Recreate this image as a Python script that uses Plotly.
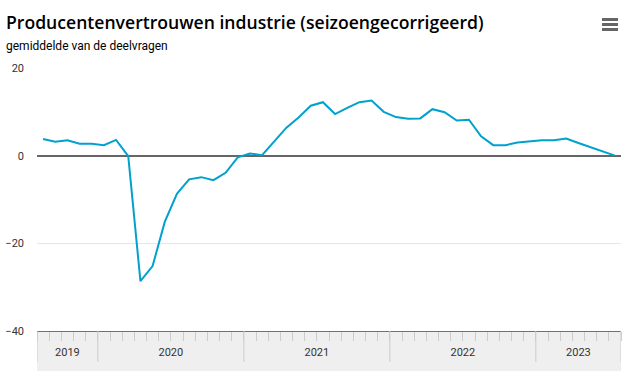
import plotly.graph_objects as go

# ---- data ----
months = [
    "2019-08", "2019-09", "2019-10", "2019-11", "2019-12",
    "2020-01", "2020-02", "2020-03", "2020-04", "2020-05", "2020-06",
    "2020-07", "2020-08", "2020-09", "2020-10", "2020-11", "2020-12",
    "2021-01", "2021-02", "2021-03", "2021-04", "2021-05", "2021-06",
    "2021-07", "2021-08", "2021-09", "2021-10", "2021-11", "2021-12",
    "2022-01", "2022-02", "2022-03", "2022-04", "2022-05", "2022-06",
    "2022-07", "2022-08", "2022-09", "2022-10", "2022-11", "2022-12",
    "2023-01", "2023-02", "2023-03", "2023-04", "2023-05", "2023-06",
    "2023-07",
]
values = [
    3.8, 3.2, 3.5, 2.7, 2.7,
    2.4, 3.6, -0.1, -28.6, -25.2, -15.1,
    -8.7, -5.4, -4.9, -5.6, -3.9, -0.4,
    0.5, 0.1, 3.3, 6.4, 8.7, 11.4,
    12.2, 9.5, 10.9, 12.2, 12.6, 10.0,
    8.8, 8.4, 8.5, 10.6, 9.9, 8.0,
    8.2, 4.4, 2.4, 2.4, 3.0, 3.2,
    3.5, 3.5, 3.9, 2.9, 1.9, 1.0,
    0.0,
]
years = ["2019", "2020", "2021", "2022", "2023"]
y_ticks = [-40, -20, 0, 20]

title_text = "Producentenvertrouwen industrie (seizoengecorrigeerd)"
subtitle_text = "gemiddelde van de deelvragen"

# ---- derived positions (month index axis, grouped by year) ----
x_idx = list(range(len(months)))
year_idx = {y: [i for i, m in enumerate(months) if m[:4] == y] for y in years}
year_centers = [(year_idx[y][0] + year_idx[y][-1]) / 2 for y in years]
year_bounds = [year_idx[y][0] - 0.5 for y in years] + [len(months) - 0.5]
month_bounds = [i - 0.5 for i in range(len(months) + 1)]
xr = [-0.5, len(months) - 0.5]

FONT = "Roboto"
W, H = 630, 371
ML, MR, MT, MB = 37, 9, 68, 40
PH = H - MT - MB
PW = W - ML - MR


def py(ypx):
    return (H - MB - ypx) / PH


def px(xpx):
    return (xpx - ML) / PW


fig = go.Figure()
fig.add_trace(go.Scatter(
    x=x_idx, y=values, mode="lines", text=months,
    line=dict(color="#00a1cd", width=2),
    hovertemplate="%{text}: %{y}<extra></extra>", showlegend=False,
))

shapes = [
    dict(type="rect", xref="paper", yref="paper", x0=0, x1=1,
         y0=py(H), y1=0, fillcolor="#efefef", line=dict(width=0),
         layer="below"),
]
shapes += [
    dict(type="line", xref="x", yref="paper", x0=b, x1=b,
         y0=py(362), y1=0, line=dict(color="#cccccc", width=1),
         layer="above")
    for b in year_bounds
]
shapes += [
    dict(type="line", xref="paper", yref="paper",
         x0=px(602), x1=px(618), y0=py(yy), y1=py(yy),
         line=dict(color="#666666", width=3))
    for yy in (19.5, 24.5, 29.5)
]

fig.update_layout(
    width=W, height=H,
    margin=dict(l=ML, r=MR, t=MT, b=MB, pad=0, autoexpand=False),
    paper_bgcolor="white", plot_bgcolor="white",
    font=dict(family=FONT, color="#333333", size=11),
    showlegend=False,
    title=dict(
        text=title_text, x=6 / W, xanchor="left", xref="container",
        y=1 - 17 / H, yanchor="top", yref="container",
        font=dict(family="Open Sans", size=17.6, color="#000000", weight=600),
    ),
    xaxis=dict(
        type="linear", range=xr, showgrid=False, zeroline=False,
        showline=True, linecolor="#707070", linewidth=1, automargin=False,
        tickmode="array", tickvals=year_centers, ticktext=years,
        ticks="outside", ticklen=11, tickcolor="rgba(0,0,0,0)",
        tickfont=dict(family=FONT, size=11, color="#333333"),
        minor=dict(tickmode="array", tickvals=month_bounds, ticks="outside",
                   ticklen=9, tickcolor="#cccccc", tickwidth=1,
                   showgrid=False),
        fixedrange=True,
    ),
    yaxis=dict(
        range=[-40, 20], tickmode="array", tickvals=y_ticks,
        showgrid=True, gridcolor="#e6e6e6", gridwidth=1,
        zeroline=True, zerolinecolor="#666666", zerolinewidth=2,
        showline=False, ticks="", ticklabelstandoff=12, automargin=False,
        tickfont=dict(family=FONT, size=11, color="#333333"),
        fixedrange=True,
    ),
    shapes=shapes,
    annotations=[
        dict(text=subtitle_text, xref="paper", yref="paper",
             x=px(4), y=py(46), xanchor="left", yanchor="middle",
             showarrow=False, font=dict(family=FONT, size=12, color="#000000")),
    ],
)

fig.write_html(
    "out.html",
    config={"displayModeBar": False},
    post_script="document.body.style.margin='0';document.body.style.overflow='hidden';",
)
